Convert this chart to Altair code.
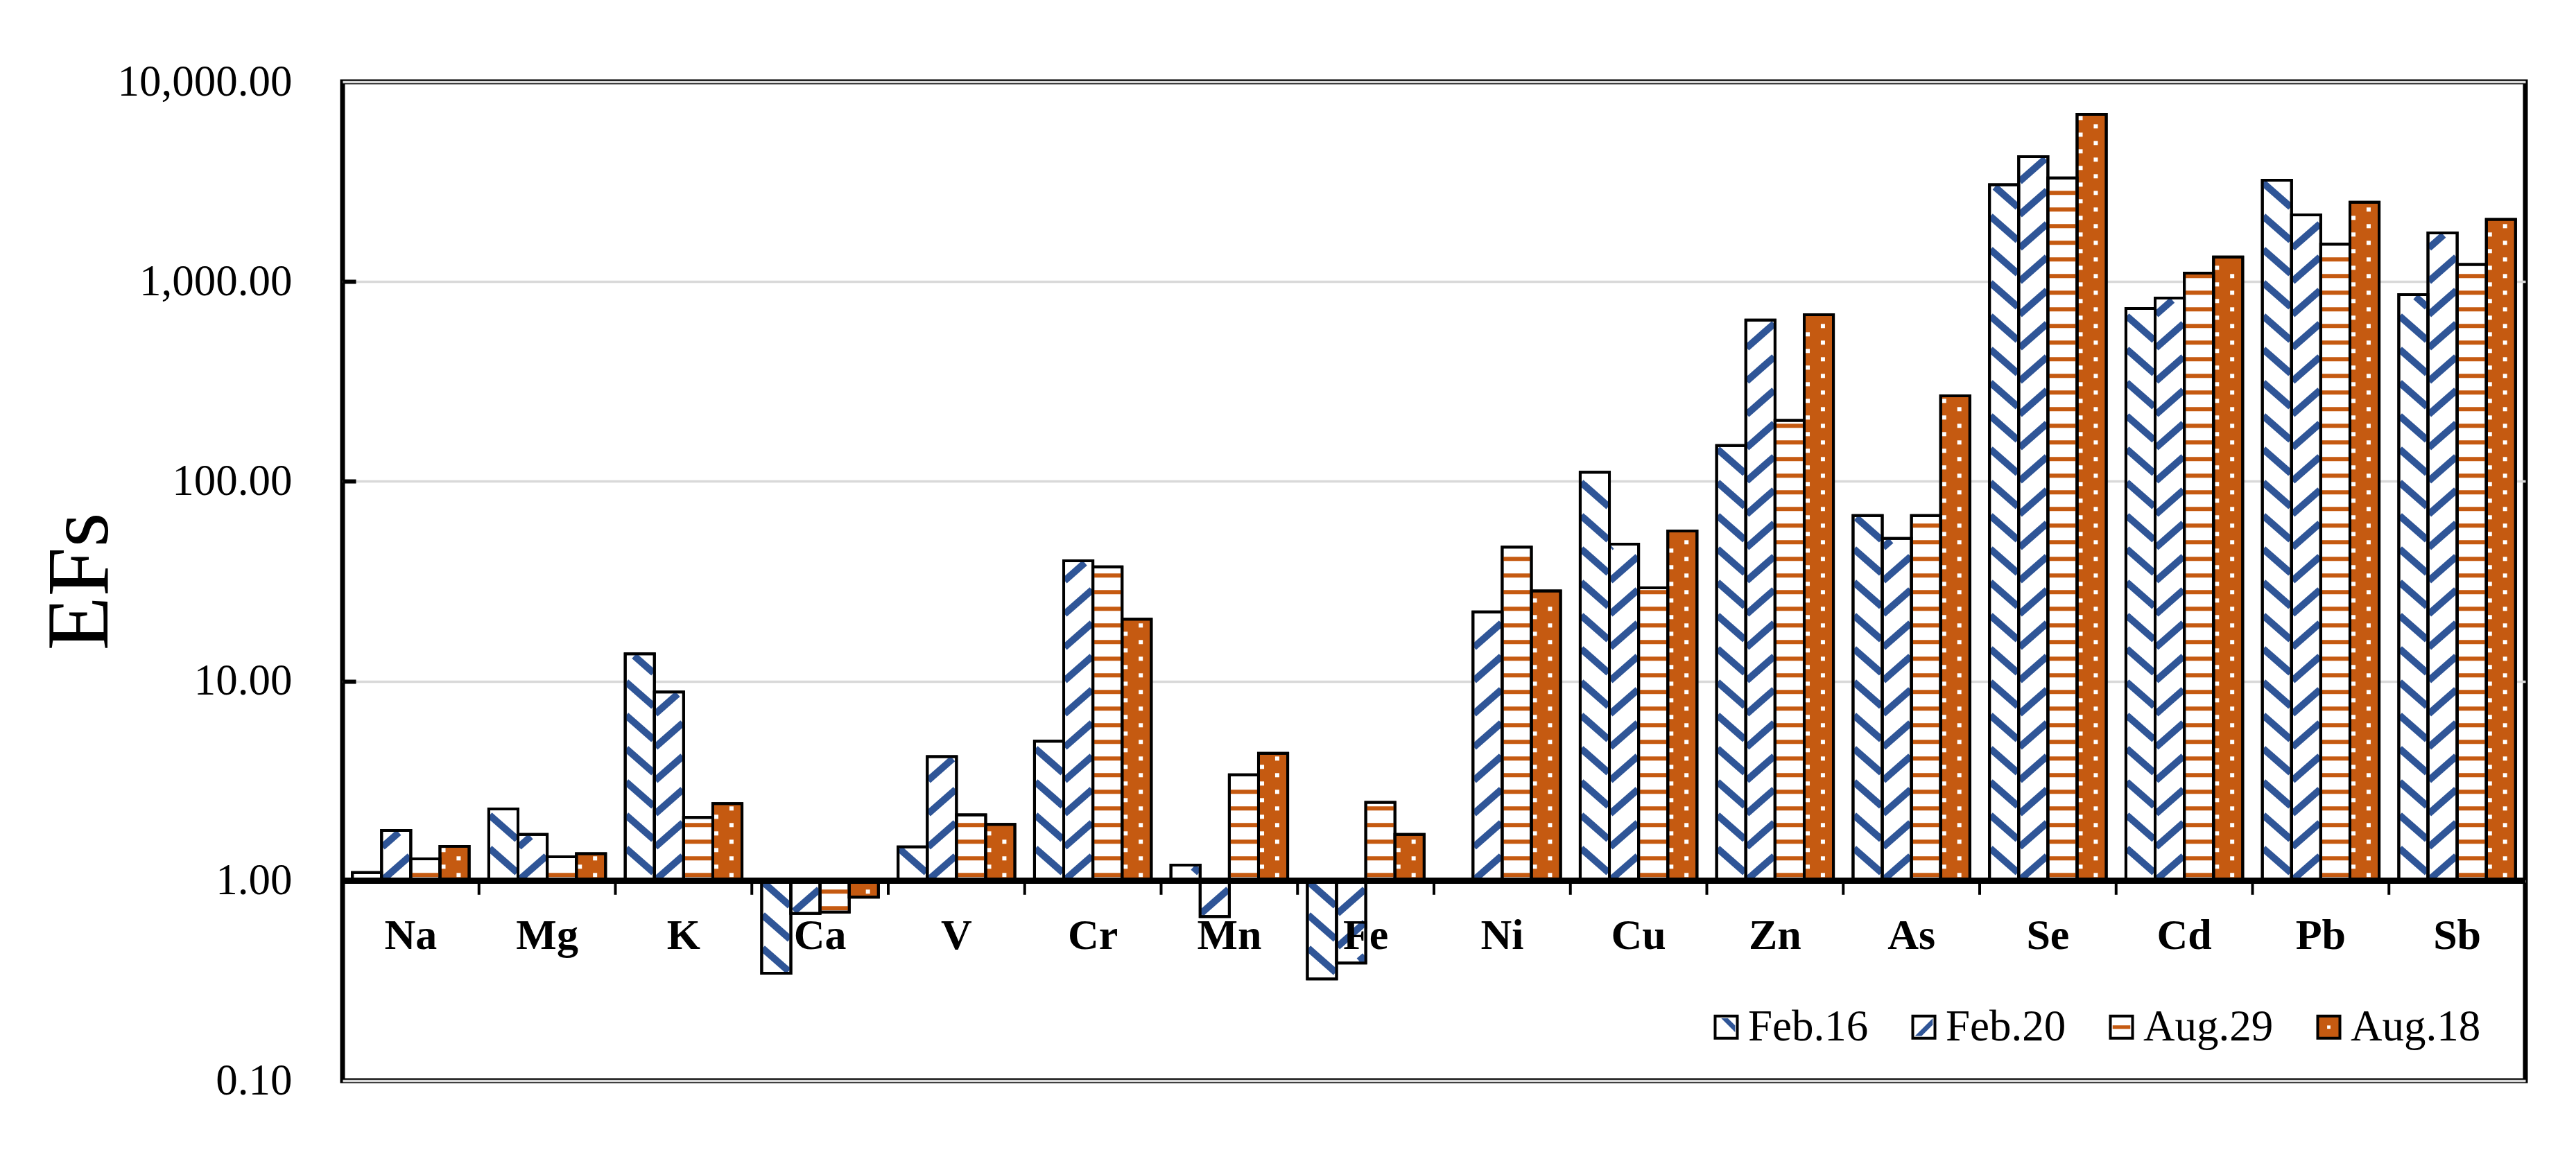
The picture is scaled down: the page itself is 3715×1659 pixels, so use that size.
import altair as alt
import pandas as pd

# ---------------- data ----------------
ELEMENTS = ["Na", "Mg", "K", "Ca", "V", "Cr", "Mn", "Fe",
            "Ni", "Cu", "Zn", "As", "Se", "Cd", "Pb", "Sb"]
SERIES = ["Feb.16", "Feb.20", "Aug.29", "Aug.18"]
FEB16 = [1.10, 2.29, 13.7, 0.345, 1.48, 5.0, 1.20, 0.323, None,
         111, 151, 67.4, 3050, 733, 3215, 860]
FEB20 = [1.79, 1.71, 8.82, 0.687, 4.19, 40.0, 0.663, 0.388, 22.2,
         48.5, 642, 51.8, 4220, 827, 2157, 1752]
AUG29 = [1.29, 1.32, 2.08, 0.698, 2.14, 37.3, 3.40, 2.47, 46.9,
         29.3, 202, 67.4, 3300, 1103, 1538, 1217]
AUG18 = [1.49, 1.37, 2.44, 0.829, 1.92, 20.4, 4.35, 1.71, 28.3,
         56.4, 682, 268, 6870, 1328, 2497, 2046]
Y_TICKS = [0.1, 1, 10, 100, 1000, 10000]

rows = []
for j, (name, vals) in enumerate(zip(SERIES, [FEB16, FEB20, AUG29, AUG18])):
    for i, (el, v) in enumerate(zip(ELEMENTS, vals)):
        if v is not None:
            rows.append({"element": el, "i": i, "series": name, "j": j, "value": v})
df = pd.DataFrame(rows)
cat_df = pd.DataFrame({"element": ELEMENTS, "i": list(range(len(ELEMENTS)))})
bnd_df = pd.DataFrame({"b": [i + 0.5 for i in range(len(ELEMENTS) - 1)]})

# ---------------- style ----------------
FONT = "Liberation Serif"
BLUE = "#2F5597"
ORANGE = "#C55A11"
W, H = 3148, 1441
DEC = H / 5.0              # pixels per decade
BW = 0.214                 # bar width (fraction of category)
PAD = (1 - 4 * BW) / 2
P_D = 48 / DEC             # diagonal stripe period (decades)
S_D = 37 / DEC             # diagonal drop across one bar
M_D = 3 / DEC
P_H = 24 / DEC             # horizontal stripe / dot period
PH_H = 8.5 / DEC
XS = alt.Scale(domain=[-0.5, 15.5], nice=False, zero=False)
YS = alt.Scale(type="log", domain=[0.1, 10000], nice=False)

SHAPES = [
    "M-0.45,-0.8L0.15,-0.8L0.8,-0.15L0.8,0.45Z",
    "M-0.8,0.8L-0.2,0.8L0.8,-0.2L0.8,-0.8Z",
    "M-0.8,-0.16H0.8V0.16H-0.8Z",
    "M-0.15,-0.15H0.15V0.15H-0.15Z",
]

legend_common = dict(orient="none", legendX=1964, legendY=1332, direction="horizontal",
                     title=None, symbolSize=1024, symbolStrokeWidth=4,
                     labelFont=FONT, labelFontSize=63, labelOffset=0,
                     columnPadding=48, padding=0, labelLimit=600)


def prep(chart):
    return (chart
            .transform_calculate(L="log(datum.value) / LN10")
            .transform_calculate(lo="min(0, datum.L)")
            .transform_calculate(hi="max(0, datum.L)")
            .transform_calculate(x0=f"datum.i - 0.5 + {PAD} + datum.j * {BW}")
            .transform_calculate(x1=f"datum.x0 + {BW}"))


base = prep(alt.Chart(df))

bars = base.mark_rect(stroke="black", strokeWidth=4).encode(
    x=alt.X("x0:Q", scale=XS, axis=None),
    x2="x1:Q",
    y=alt.Y("value:Q", scale=YS, axis=alt.Axis(
        values=Y_TICKS, format=",.2f", labelFont=FONT, labelFontSize=63,
        labelColor="black", labelPadding=73, labelLimit=600, ticks=False, tickSize=0,
        domain=False, grid=True, gridColor="#D9D9D9", gridWidth=3.5,
        title="EFs", titleFont=FONT, titleFontSize=128, titleFontWeight="normal",
        titleColor="black", titleAngle=270, titleAlign="center",
        titleBaseline="alphabetic", titleX=-340, titleY=H / 2)),
    y2=alt.datum(1),
    fill=alt.Fill("series:N", sort=SERIES,
                  scale=alt.Scale(range=["white", "white", "white", ORANGE]),
                  legend=alt.Legend(symbolType="square", symbolStrokeColor="black",
                                    labelColor="black", zindex=1, **legend_common)),
)

# diagonal "\" stripes (Feb.16)
f16 = (prep(alt.Chart(df).transform_filter("datum.series === 'Feb.16'"))
       .transform_calculate(ks=f"sequence(0, ceil((datum.hi - datum.lo + {S_D}) / {P_D}) + 3)")
       .transform_flatten(["ks"])
       .transform_calculate(a=f"(floor(datum.lo / {P_D}) + datum.ks) * {P_D}")
       .transform_calculate(tlo=f"max(0.03, (datum.a - datum.hi + {M_D}) / {S_D})")
       .transform_calculate(thi=f"min(0.97, (datum.a - datum.lo - {M_D}) / {S_D})")
       .transform_filter("datum.thi > datum.tlo")
       .transform_calculate(xa=f"datum.x0 + datum.tlo * {BW}")
       .transform_calculate(xb=f"datum.x0 + datum.thi * {BW}")
       .transform_calculate(ya=f"pow(10, datum.a - {S_D} * datum.tlo)")
       .transform_calculate(yb=f"pow(10, datum.a - {S_D} * datum.thi)")
       .mark_rule(color=BLUE, strokeWidth=10)
       .encode(x=alt.X("xa:Q", scale=XS, axis=None), x2="xb:Q",
               y=alt.Y("ya:Q", scale=YS, axis=None), y2="yb:Q"))

# diagonal "/" stripes (Feb.20)
f20 = (prep(alt.Chart(df).transform_filter("datum.series === 'Feb.20'"))
       .transform_calculate(ks=f"sequence(0, ceil((datum.hi - datum.lo + {S_D}) / {P_D}) + 3)")
       .transform_flatten(["ks"])
       .transform_calculate(a=f"(floor((datum.lo - {S_D}) / {P_D}) + datum.ks) * {P_D}")
       .transform_calculate(tlo=f"max(0.03, (datum.lo + {M_D} - datum.a) / {S_D})")
       .transform_calculate(thi=f"min(0.97, (datum.hi - {M_D} - datum.a) / {S_D})")
       .transform_filter("datum.thi > datum.tlo")
       .transform_calculate(xa=f"datum.x0 + datum.tlo * {BW}")
       .transform_calculate(xb=f"datum.x0 + datum.thi * {BW}")
       .transform_calculate(ya=f"pow(10, datum.a + {S_D} * datum.tlo)")
       .transform_calculate(yb=f"pow(10, datum.a + {S_D} * datum.thi)")
       .mark_rule(color=BLUE, strokeWidth=10)
       .encode(x=alt.X("xa:Q", scale=XS, axis=None), x2="xb:Q",
               y=alt.Y("ya:Q", scale=YS, axis=None), y2="yb:Q"))

# horizontal stripes (Aug.29)
a29 = (prep(alt.Chart(df).transform_filter("datum.series === 'Aug.29'"))
       .transform_calculate(ks=f"sequence(0, ceil((datum.hi - datum.lo) / {P_H}) + 3)")
       .transform_flatten(["ks"])
       .transform_calculate(b=f"(floor((datum.lo - {PH_H}) / {P_H}) + datum.ks) * {P_H} + {PH_H}")
       .transform_filter(f"datum.b > datum.lo + {4 / DEC} && datum.b < datum.hi - {4 / DEC}")
       .transform_calculate(yb="pow(10, datum.b)")
       .mark_rule(color=ORANGE, strokeWidth=6)
       .encode(x=alt.X("x0:Q", scale=XS, axis=None), x2="x1:Q",
               y=alt.Y("yb:Q", scale=YS, axis=None)))

# white dots (Aug.18)
a18 = (prep(alt.Chart(df).transform_filter("datum.series === 'Aug.18'"))
       .transform_calculate(series_b="datum.series")
       .transform_calculate(ks=f"sequence(0, 2 * ceil((datum.hi - datum.lo) / {P_H}) + 6)")
       .transform_flatten(["ks"])
       .transform_calculate(b=f"(floor((datum.lo - {PH_H}) / {P_H}) + datum.ks * 0.5) * {P_H} + {PH_H}")
       .transform_filter(f"datum.b > datum.lo + {5 / DEC} && datum.b < datum.hi - {5 / DEC}")
       .transform_calculate(xd=f"datum.x0 + (datum.ks % 2 === 0 ? 0.64 : 0.12) * {BW}")
       .transform_calculate(yd="pow(10, datum.b)")
       .mark_point(filled=True, opacity=1, size=1600)
       .encode(x=alt.X("xd:Q", scale=XS, axis=None),
               y=alt.Y("yd:Q", scale=YS, axis=None),
               color=alt.Color("series_b:N",
                               scale=alt.Scale(domain=SERIES, range=[BLUE, BLUE, ORANGE, "white"]),
                               legend=alt.Legend(symbolStrokeColor="transparent",
                                                 labelColor="transparent", zindex=2,
                                                 **legend_common)),
               shape=alt.Shape("series_b:N",
                               scale=alt.Scale(domain=SERIES, range=SHAPES),
                               legend=alt.Legend(symbolStrokeColor="transparent",
                                                 labelColor="transparent", zindex=2,
                                                 **legend_common))))

# outlines on top + inward y ticks
outline = base.mark_rect(fillOpacity=0, stroke="black", strokeWidth=4).encode(
    x=alt.X("x0:Q", scale=XS, axis=None),
    x2="x1:Q",
    y=alt.Y("value:Q", scale=YS, axis=alt.Axis(
        orient="right", offset=-W, values=[10, 100, 1000], labels=False,
        ticks=True, tickSize=19, tickWidth=6, tickColor="black",
        domain=False, grid=False, title=None, zindex=1)),
    y2=alt.datum(1),
)

# category axis drawn at EF = 1
baseline = alt.Chart(cat_df).mark_rule(color="black", strokeWidth=8).encode(
    y=alt.Y(datum=1, scale=YS, axis=None))

cat_ticks = alt.Chart(bnd_df).mark_tick(
    orient="vertical", size=20, thickness=4, color="black", opacity=1, yOffset=10
).encode(x=alt.X("b:Q", scale=XS, axis=None), y=alt.Y(datum=1, scale=YS, axis=None))

cat_labels = alt.Chart(cat_df).mark_text(
    font=FONT, fontSize=62, fontWeight="bold", baseline="top", dy=49, color="black"
).encode(x=alt.X("i:Q", scale=XS, axis=None), y=alt.Y(datum=1, scale=YS, axis=None),
         text="element:N")

chart = (alt.layer(bars, f16, f20, a29, a18, outline, baseline, cat_ticks, cat_labels)
         .resolve_axis(y="independent")
         .properties(width=W, height=H,
                     autosize=alt.AutoSizeParams(type="none"),
                     padding={"left": 486, "top": 110, "right": 60, "bottom": 92},
                     background="white")
         .configure(font=FONT)
         .configure_view(stroke="black", strokeWidth=7))

chart.save("out.html", embed_options={"renderer": "svg", "actions": False})
